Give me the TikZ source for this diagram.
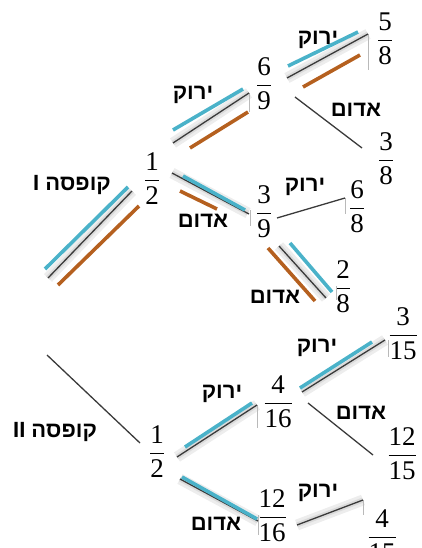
\documentclass[tikz,border=0pt]{standalone}
\usepackage{amsmath}
\usepackage{fontspec}
\setmainfont{Liberation Serif}
\newfontfamily\heb[Script=Hebrew]{Liberation Sans}
\TeXXeTstate=1
\definecolor{hlblue}{HTML}{4AB2C9}
\definecolor{hlbrown}{HTML}{B5601F}
\definecolor{lineblk}{HTML}{3A3A3A}
\newcommand\fr[2]{$\genfrac{}{}{1.4pt}{0}{\hbox{#1}}{\hbox{#2}}$}
\tikzset{
  frac/.style={anchor=base, inner sep=0pt, font=\fontsize{27}{30}\selectfont},
  lbl/.style={inner sep=0pt, font=\heb\bfseries\fontsize{22}{24}\selectfont},
  conn/.style={draw=lineblk, line width=1.3pt},
  hb/.style={draw=hlblue, line width=3.6pt},
  hr/.style={draw=hlbrown, line width=3.6pt},
  shd/.style={draw=gray!14, line width=11pt},
  shd2/.style={draw=gray!28, line width=5pt},
  tick/.style={draw=gray!55, line width=0.8pt},
}
\begin{document}
\begin{tikzpicture}[x=1pt,y=-1pt]
\useasboundingbox (0,0) rectangle (421,548);
% fractions
\node[frac] (tA)    at (152,187) {\fr{1}{2}};
\node[frac] (t69)   at (264,92)  {\fr{6}{9}};
\node[frac] (t58)   at (385,47)  {\fr{5}{8}};
\node[frac] (t38)   at (386,167) {\fr{3}{8}};
\node[frac] (t39)   at (264,220) {\fr{3}{9}};
\node[frac] (t68)   at (357,215) {\fr{6}{8}};
\node[frac] (t28)   at (343,295) {\fr{2}{8}};
\node[frac] (bA)    at (157,460) {\fr{1}{2}};
\node[frac] (b416)  at (278,410) {\fr{4}{16}};
\node[frac] (b315)  at (403,342) {\fr{3}{15}};
\node[frac] (b1215) at (402,462) {\fr{12}{15}};
\node[frac] (b1216) at (272,524) {\fr{12}{16}};
\node[frac] (b415)  at (382,544) {\fr{4}{15}};
\coordinate (r1) at (48,278);
\coordinate (r2) at (47,355);
% shadows
\begin{scope}[shift={(4,7)}]
\draw[shd] (r1) -- ([shift={(-20,4)}]tA.base);
\draw[shd] ([shift={(21,-44)}]tA.base) -- ([shift={(-15,1)}]t69.base);
\draw[shd] ([shift={(23,-14)}]t69.base) -- ([shift={(-17,-13)}]t58.base);
\draw[shd] ([shift={(20,-14)}]tA.base) -- ([shift={(-16,-7)}]t39.base);
\draw[shd] ([shift={(15,26)}]t39.base) -- ([shift={(-17,3)}]t28.base);
\draw[shd] ([shift={(20,-3)}]bA.base) -- ([shift={(-21,-5)}]b416.base);
\draw[shd] ([shift={(24,-18)}]b416.base) -- ([shift={(-18,-2)}]b315.base);
\draw[shd] ([shift={(23,19)}]bA.base) -- ([shift={(-14,-3)}]b1216.base);
\draw[shd] ([shift={(25,1)}]b1216.base) -- ([shift={(-19,-44)}]b415.base);
\draw[shd2] (r1) -- ([shift={(-20,4)}]tA.base);
\draw[shd2] ([shift={(21,-44)}]tA.base) -- ([shift={(-15,1)}]t69.base);
\draw[shd2] ([shift={(23,-14)}]t69.base) -- ([shift={(-17,-13)}]t58.base);
\draw[shd2] ([shift={(20,-14)}]tA.base) -- ([shift={(-16,-7)}]t39.base);
\draw[shd2] ([shift={(15,26)}]t39.base) -- ([shift={(-17,3)}]t28.base);
\draw[shd2] ([shift={(20,-3)}]bA.base) -- ([shift={(-21,-5)}]b416.base);
\draw[shd2] ([shift={(24,-18)}]b416.base) -- ([shift={(-18,-2)}]b315.base);
\draw[shd2] ([shift={(23,19)}]bA.base) -- ([shift={(-14,-3)}]b1216.base);
\draw[shd2] ([shift={(25,1)}]b1216.base) -- ([shift={(-19,-44)}]b415.base);
\end{scope}
% ticks
\draw[tick] (249,93) -- (249,112);
\draw[tick] (368,34) -- (368,70);
\draw[tick] (250,210) -- (250,226);
\draw[tick] (345,198) -- (345,214);
\draw[tick] (336,286) -- (336,300);
\draw[tick] (257,405) -- (257,428);
\draw[tick] (388,340) -- (388,357);
\draw[tick] (258,515) -- (258,535);
\draw[tick] (363,500) -- (363,515);
% connectors
\draw[conn] (r1) -- ([shift={(-20,4)}]tA.base);
\draw[conn] ([shift={(21,-44)}]tA.base) -- ([shift={(-15,1)}]t69.base);
\draw[conn] ([shift={(23,-14)}]t69.base) -- ([shift={(-17,-13)}]t58.base);
\draw[conn] ([shift={(31,5)}]t69.base) -- ([shift={(-24,-19)}]t38.base);
\draw[conn] ([shift={(20,-14)}]tA.base) -- ([shift={(-15,-6)}]t39.base);
\draw[conn] ([shift={(13,-2)}]t39.base) -- ([shift={(-12,-17)}]t68.base);
\draw[conn] ([shift={(15,26)}]t39.base) -- ([shift={(-17,3)}]t28.base);
\draw[conn] (r2) -- ([shift={(-17,-17)}]bA.base);
\draw[conn] ([shift={(20,-3)}]bA.base) -- ([shift={(-21,-5)}]b416.base);
\draw[conn] ([shift={(24,-18)}]b416.base) -- ([shift={(-18,-2)}]b315.base);
\draw[conn] ([shift={(30,-7)}]b416.base) -- ([shift={(-29,-7)}]b1215.base);
\draw[conn] ([shift={(23,19)}]bA.base) -- ([shift={(-14,-3)}]b1216.base);
\draw[conn] ([shift={(25,1)}]b1216.base) -- ([shift={(-19,-44)}]b415.base);
% highlights
\draw[hb] (45,269) -- (128,187);
\draw[hr] (58,285) -- (139,206);
\draw[hb] (173,130) -- (243,89);
\draw[hr] (190,148) -- (248,112);
\draw[hb] (288,66) -- (358,32);
\draw[hr] (303,87) -- (360,55);
\draw[hb] (183,176) -- (245,210);
\draw[hr] (180,191) -- (217,209);
\draw[hr] (268,248) -- (315,301);
\draw[hb] (290,243) -- (332,292);
\draw[hb] (185,447) -- (252,403);
\draw[hb] (300,388) -- (372,342);
\draw[hb] (182,477) -- (257,519);
% labels
\node[lbl] (lI)  at (72,185)  {\beginR קופסה I\endR};
\node[lbl] (lII) at (55,432)  {\beginR קופסה II\endR};
\node[lbl] (g1) at (193,95)  {\beginR ירוק\endR};
\node[lbl] (g2) at (318,40)  {\beginR ירוק\endR};
\node[lbl] (r3) at (356,110) {\beginR אדום\endR};
\node[lbl] (r4) at (203,221) {\beginR אדום\endR};
\node[lbl] (g5) at (305,187) {\beginR ירוק\endR};
\node[lbl] (r6) at (275,297) {\beginR אדום\endR};
\node[lbl] (g7) at (222,394) {\beginR ירוק\endR};
\node[lbl] (g8) at (317,348) {\beginR ירוק\endR};
\node[lbl] (r9) at (361,413) {\beginR אדום\endR};
\node[lbl] (r10) at (216,524) {\beginR אדום\endR};
\node[lbl] (g11) at (318,493) {\beginR ירוק\endR};
\end{tikzpicture}
\end{document}
